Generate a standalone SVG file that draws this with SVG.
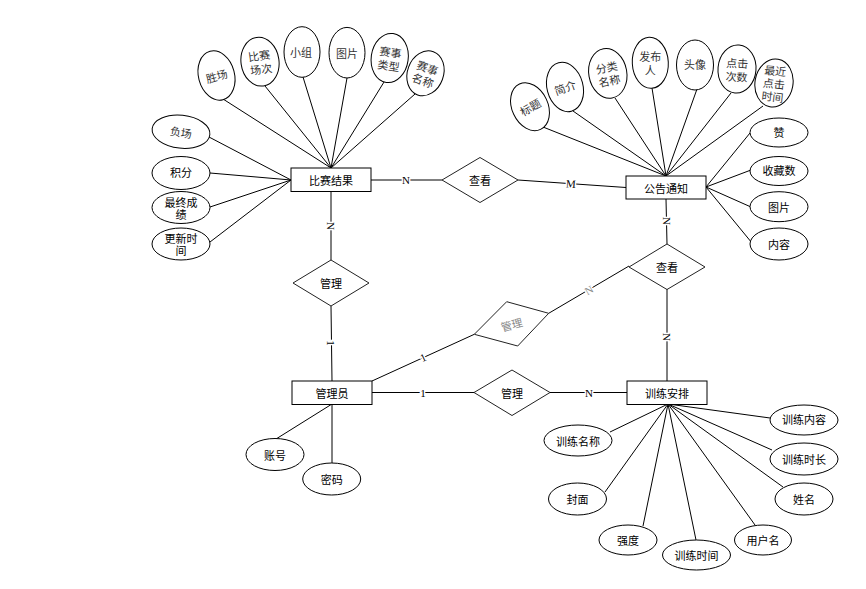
<svg xmlns="http://www.w3.org/2000/svg" width="866" height="589" viewBox="0 0 866 589">
<style>
  .ent{fill:#fff;stroke:#000;stroke-width:1}
  .rel{fill:#fff;stroke:#222;stroke-width:1}
  .att{fill:#fff;stroke:#000;stroke-width:1}
  .ln{stroke:#000;stroke-width:1;fill:none}
  text{font-family:"Noto Sans CJK SC","Liberation Sans",sans-serif;font-size:11px;fill:#000;text-anchor:middle;dominant-baseline:central}
  .s{fill:#333;font-size:11px}
  .lab{font-family:"Liberation Serif",serif;font-size:11px;fill:#000;paint-order:stroke;stroke:#fff;stroke-width:3px}
  .gray{fill:#888}
</style>
<rect width="866" height="589" fill="#fff"/>
<g id="connectors">
  <!-- 比赛结果 attributes -->
  <line class="ln" x1="223" y1="99" x2="331" y2="168"/>
  <line class="ln" x1="265" y1="86" x2="331" y2="168"/>
  <line class="ln" x1="303" y1="77" x2="331" y2="168"/>
  <line class="ln" x1="347" y1="78" x2="331" y2="168"/>
  <line class="ln" x1="384" y1="82" x2="331" y2="168"/>
  <line class="ln" x1="415" y1="94" x2="331" y2="168"/>
  <line class="ln" x1="209" y1="137" x2="291" y2="180"/>
  <line class="ln" x1="210" y1="173" x2="291" y2="180"/>
  <line class="ln" x1="210" y1="207" x2="291" y2="180"/>
  <line class="ln" x1="210" y1="242" x2="291" y2="180"/>
  <!-- 公告通知 attributes -->
  <line class="ln" x1="543" y1="127" x2="666" y2="176"/>
  <line class="ln" x1="573" y1="111" x2="666" y2="176"/>
  <line class="ln" x1="615" y1="98" x2="666" y2="176"/>
  <line class="ln" x1="652" y1="88" x2="666" y2="176"/>
  <line class="ln" x1="697" y1="89" x2="666" y2="176"/>
  <line class="ln" x1="731" y1="93" x2="666" y2="176"/>
  <line class="ln" x1="763" y1="106" x2="666" y2="176"/>
  <line class="ln" x1="750" y1="133" x2="706" y2="187"/>
  <line class="ln" x1="751" y1="170" x2="706" y2="187"/>
  <line class="ln" x1="751" y1="207" x2="706" y2="187"/>
  <line class="ln" x1="752" y1="243" x2="706" y2="187"/>
  <!-- 训练安排 attributes -->
  <line class="ln" x1="770" y1="418" x2="668" y2="404"/>
  <line class="ln" x1="772" y1="450" x2="668" y2="404"/>
  <line class="ln" x1="783" y1="487" x2="668" y2="404"/>
  <line class="ln" x1="755" y1="525" x2="668" y2="404"/>
  <line class="ln" x1="696" y1="540" x2="668" y2="404"/>
  <line class="ln" x1="643" y1="526" x2="668" y2="404"/>
  <line class="ln" x1="605" y1="492" x2="668" y2="404"/>
  <line class="ln" x1="610" y1="432" x2="668" y2="404"/>
  <!-- 管理员 attributes -->
  <line class="ln" x1="276" y1="439" x2="332" y2="404"/>
  <line class="ln" x1="332" y1="463" x2="332" y2="404"/>
  <!-- relationships -->
  <line class="ln" x1="371" y1="180" x2="442" y2="180"/>
  <line class="ln" x1="518" y1="180" x2="626" y2="187.5"/>
  <line class="ln" x1="331" y1="192" x2="331" y2="260"/>
  <line class="ln" x1="331" y1="306" x2="332" y2="381"/>
  <line class="ln" x1="666" y1="199" x2="667" y2="244"/>
  <line class="ln" x1="667" y1="289" x2="667" y2="381"/>
  <line class="ln" x1="372" y1="381" x2="474.3" y2="334.3"/>
  <line class="ln" x1="548.7" y1="313.3" x2="629" y2="266"/>
  <line class="ln" x1="372" y1="392.5" x2="474" y2="392.5"/>
  <line class="ln" x1="550" y1="392.5" x2="627" y2="392.5"/>
  <!-- cardinality labels -->
  <text class="lab" x="406" y="180">N</text>
  <text class="lab" x="571" y="183.5" transform="rotate(4 571 183.5)">M</text>
  <text class="lab" x="331" y="226" transform="rotate(90 331 226)">N</text>
  <text class="lab" x="331" y="343" transform="rotate(90 331 343)">1</text>
  <text class="lab" x="666.5" y="221" transform="rotate(90 666.5 221)">N</text>
  <text class="lab" x="667" y="337" transform="rotate(90 667 337)">N</text>
  <text class="lab" x="423" y="357.5" transform="rotate(-24.5 423 357.5)">1</text>
  <text class="lab gray" x="589" y="290" transform="rotate(-30.5 589 290)">N</text>
  <text class="lab" x="423" y="392.5">1</text>
  <text class="lab" x="589" y="392.5">N</text>
</g>
<g id="e-bisai"><rect class="ent" x="291" y="168" width="80" height="23.5"/><text x="331" y="180">比赛结果</text></g>
<g id="e-gonggao"><rect class="ent" x="626" y="176" width="80" height="23"/><text x="666" y="187.5">公告通知</text></g>
<g id="e-guanli"><rect class="ent" x="292" y="381" width="80" height="23.5"/><text x="332" y="392.5">管理员</text></g>
<g id="e-xunlian"><rect class="ent" x="627" y="381" width="80" height="23.5"/><text x="667" y="392.5">训练安排</text></g>

<g id="r-chakan1"><polygon class="rel" points="442,180 480,157.5 518,180 480,202.5"/><text x="480" y="180">查看</text></g>
<g id="r-guanli1"><polygon class="rel" points="293,283 331,260 369,283 331,306"/><text x="331" y="283">管理</text></g>
<g id="r-chakan2"><polygon class="rel" points="629,267 667,244 705,267 667,289.5"/><text x="667" y="267">查看</text></g>
<g id="r-guanli2"><polygon class="rel" points="474.3,334.3 506.7,301.7 548.7,313.3 517.7,346"/><text class="gray" x="511.5" y="324" transform="rotate(-15 511.5 324)">管理</text></g>
<g id="r-guanli3"><polygon class="rel" points="474,392.5 512,370 550,392.5 512,415.5"/><text x="512" y="392.5">管理</text></g>

<!-- 比赛结果 attributes -->
<g id="a-shengchang"><ellipse class="att" cx="216.5" cy="75.5" rx="18" ry="25" transform="rotate(-15 216.5 75.5)"/><text class="s" x="216.5" y="75.5" transform="rotate(-15 216.5 75.5)">胜场</text></g>
<g id="a-bisaichangci"><ellipse class="att" cx="260" cy="61.7" rx="19" ry="24.5" transform="rotate(-8 260 61.7)"/><text class="s" transform="rotate(-8 260 61.7)"><tspan x="260" y="55">比赛</tspan><tspan x="260" y="68.5">场次</tspan></text></g>
<g id="a-xiaozu"><ellipse class="att" cx="302" cy="52" rx="18" ry="25.3"/><text class="s" x="301" y="52">小组</text></g>
<g id="a-tupian1"><ellipse class="att" cx="347" cy="52.7" rx="18" ry="25.3"/><text class="s" x="347" y="52.7">图片</text></g>
<g id="a-saishileixing"><ellipse class="att" cx="389.7" cy="58" rx="18.5" ry="24.7" transform="rotate(8 389.7 58)"/><text class="s" transform="rotate(8 389.7 58)"><tspan x="389.7" y="51.5">赛事</tspan><tspan x="389.7" y="65">类型</tspan></text></g>
<g id="a-saishimingcheng"><ellipse class="att" cx="425.5" cy="73.3" rx="18" ry="23" transform="rotate(20 425.5 73.3)"/><text class="s" transform="rotate(20 425.5 73.3)"><tspan x="425.5" y="66.8">赛事</tspan><tspan x="425.5" y="80.3">名称</tspan></text></g>
<g id="a-fuchang"><ellipse class="att" cx="181" cy="131.7" rx="29" ry="16.5" transform="rotate(6 181 131.7)"/><text class="s" x="181" y="131.7" transform="rotate(8 181 131.7)">负场</text></g>
<g id="a-jifen"><ellipse class="att" cx="181" cy="173" rx="29" ry="16.5"/><text x="181" y="172">积分</text></g>
<g id="a-zuizhong"><ellipse class="att" cx="181" cy="207.5" rx="29" ry="16"/><text><tspan x="181" y="201.5">最终成</tspan><tspan x="181" y="213.5">绩</tspan></text></g>
<g id="a-gengxin"><ellipse class="att" cx="181" cy="244" rx="29" ry="16"/><text><tspan x="181" y="238">更新时</tspan><tspan x="181" y="250">间</tspan></text></g>

<!-- 公告通知 attributes -->
<g id="a-biaoti"><ellipse class="att" cx="530" cy="106.7" rx="18" ry="25" transform="rotate(-25 530 106.7)"/><text class="s" x="530" y="106.7" transform="rotate(-30 530 106.7)">标题</text></g>
<g id="a-jianjie"><ellipse class="att" cx="565" cy="87" rx="18" ry="25" transform="rotate(-15 565 87)"/><text class="s" x="565" y="87" transform="rotate(-20 565 87)">简介</text></g>
<g id="a-fenlei"><ellipse class="att" cx="607.8" cy="73.3" rx="19" ry="25" transform="rotate(-10 607.8 73.3)"/><text class="s" transform="rotate(-12 607.8 73.3)"><tspan x="607.8" y="66.8">分类</tspan><tspan x="607.8" y="80.3">名称</tspan></text></g>
<g id="a-fabuoren"><ellipse class="att" cx="650.3" cy="62.8" rx="18" ry="25.5" transform="rotate(-3 650.3 62.8)"/><text class="s"><tspan x="650.3" y="56.3">发布</tspan><tspan x="650.3" y="69.8">人</tspan></text></g>
<g id="a-touxiang"><ellipse class="att" cx="695" cy="65" rx="18.5" ry="25"/><text class="s" x="695" y="64">头像</text></g>
<g id="a-dianji"><ellipse class="att" cx="737" cy="69" rx="19" ry="24" transform="rotate(5 737 69)"/><text class="s" transform="rotate(3 737 69)"><tspan x="737" y="62.5">点击</tspan><tspan x="737" y="76">次数</tspan></text></g>
<g id="a-zuijin"><ellipse class="att" cx="774" cy="83" rx="19" ry="24" transform="rotate(10 774 83)"/><text class="s" transform="rotate(6 774 83)"><tspan x="774" y="70">最近</tspan><tspan x="774" y="83">点击</tspan><tspan x="774" y="96">时间</tspan></text></g>
<g id="a-zan"><ellipse class="att" cx="779" cy="132.5" rx="29" ry="14.5"/><text x="779" y="132">赞</text></g>
<g id="a-shoucang"><ellipse class="att" cx="779" cy="171" rx="29" ry="14.5"/><text x="779" y="170">收藏数</text></g>
<g id="a-tupian2"><ellipse class="att" cx="779" cy="206.7" rx="29" ry="15"/><text x="779" y="206.7">图片</text></g>
<g id="a-neirong"><ellipse class="att" cx="779" cy="244" rx="29" ry="16"/><text x="779" y="244">内容</text></g>

<!-- 训练安排 attributes -->
<g id="a-xlneirong"><ellipse class="att" cx="804" cy="420" rx="34" ry="15"/><text x="804" y="419">训练内容</text></g>
<g id="a-xlshichang"><ellipse class="att" cx="804" cy="459" rx="34" ry="16"/><text x="804" y="459">训练时长</text></g>
<g id="a-xingming"><ellipse class="att" cx="804" cy="499" rx="29" ry="16"/><text x="804" y="499">姓名</text></g>
<g id="a-yonghuming"><ellipse class="att" cx="763" cy="540" rx="28.5" ry="15"/><text x="763" y="540">用户名</text></g>
<g id="a-xlshijian"><ellipse class="att" cx="696.5" cy="555" rx="34" ry="15"/><text x="696.5" y="555">训练时间</text></g>
<g id="a-qiangdu"><ellipse class="att" cx="628" cy="540" rx="29" ry="15"/><text x="628" y="540">强度</text></g>
<g id="a-fengmian"><ellipse class="att" cx="577.5" cy="499" rx="29" ry="16"/><text x="577.5" y="499">封面</text></g>
<g id="a-xlmingcheng"><ellipse class="att" cx="578" cy="440.5" rx="34" ry="15.5"/><text x="578" y="440.5">训练名称</text></g>

<!-- 管理员 attributes -->
<g id="a-zhanghao"><ellipse class="att" cx="275" cy="454.5" rx="29" ry="16"/><text x="275" y="454.5">账号</text></g>
<g id="a-mima"><ellipse class="att" cx="331.7" cy="479" rx="29" ry="16"/><text x="331.7" y="479">密码</text></g>
</svg>
